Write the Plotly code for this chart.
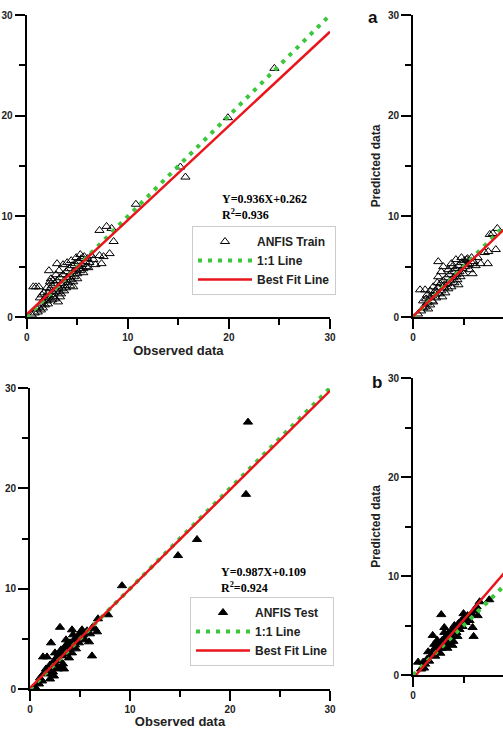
import plotly.graph_objects as go

# ---------------- data ----------------
train_obs = [24.5, 19.9, 15.2, 15.7, 10.8, 7.2, 7.9, 8.4, 8.6, 8.2, 7.4, 7.6, 7.2, 6.8, 4.6, 3.0, 0.65, 0.9, 1.2, 3.3, 3.1, 2.2, 2.4,
             0.5, 0.8, 1.0, 1.2, 1.4, 1.5, 1.6, 1.8, 1.9, 2.0, 2.1, 2.2, 2.3, 2.4, 2.5, 2.6, 2.7, 2.8, 2.9, 3.0, 3.1, 3.2, 3.3, 3.4, 3.5,
             3.6, 3.7, 3.8, 3.9, 4.0, 4.1, 4.2, 4.3, 4.4, 4.5, 4.6, 4.7, 4.8, 4.9, 5.0, 5.1, 5.2, 5.3, 5.4, 5.5, 5.6, 5.7, 5.8, 5.9,
             6.0, 6.2, 6.4, 6.6, 3.6, 4.0, 2.9, 2.6, 1.7, 1.3, 2.0, 3.4, 3.7, 4.3, 5.0, 5.6, 6.1, 2.1, 2.5, 1.1, 1.6, 4.9, 5.3, 4.4,
             3.2, 2.3, 1.5, 3.9, 4.6, 2.8]
train_pred = [24.7, 19.8, 14.9, 13.9, 11.2, 8.6, 9.0, 8.8, 7.5, 6.3, 5.3, 6.0, 6.1, 5.2, 3.0, 5.3, 3.0, 3.0, 3.0, 2.0, 1.5, 4.6, 3.8,
              0.2, 0.4, 0.8, 1.0, 0.7, 1.3, 1.6, 1.2, 2.0, 1.6, 2.4, 1.9, 2.8, 2.2, 3.1, 2.5, 2.0, 3.3, 2.7, 3.6, 3.0, 2.5, 3.9, 3.3, 2.8,
              4.2, 3.6, 3.1, 4.5, 3.9, 3.4, 4.8, 4.2, 3.7, 5.1, 4.5, 4.0, 5.3, 4.7, 4.3, 5.5, 5.0, 4.6, 5.8, 5.2, 4.8, 6.0, 5.5, 5.0,
              5.8, 5.4, 6.1, 5.7, 5.2, 5.4, 4.2, 3.6, 2.4, 1.9, 2.9, 2.3, 2.6, 3.1, 3.8, 4.4, 4.9, 1.3, 1.7, 0.5, 0.9, 5.9, 6.2, 5.6,
              4.6, 3.5, 2.2, 2.9, 3.5, 1.8]

test_obs = [21.8, 21.6, 16.7, 14.8, 9.2, 7.8, 6.8, 6.7, 6.5, 5.9, 6.2, 5.2, 4.2, 3.0, 2.1, 1.3, 1.7, 2.3, 2.4, 3.2, 0.9, 0.5,
            1.0, 1.4, 1.6, 1.8, 2.0, 2.2, 2.4, 2.6, 2.7, 2.8, 2.9, 3.0, 3.1, 3.2, 3.3, 3.4, 3.5, 3.6, 3.7, 3.8, 3.9, 4.0, 4.1, 4.2,
            4.4, 4.5, 4.6, 4.8, 4.9, 5.0, 5.1, 5.3, 5.5, 5.7, 6.0, 2.5, 3.4, 2.0, 1.2, 3.6, 4.3, 6.3]
test_pred = [26.6, 19.4, 14.9, 13.3, 10.3, 7.4, 7.0, 5.7, 6.0, 4.7, 3.3, 5.9, 5.9, 6.15, 4.6, 3.2, 3.2, 1.7, 1.3, 2.2, 0.5, 0.2,
             1.1, 1.6, 2.0, 1.5, 2.4, 2.1, 2.8, 2.4, 3.2, 2.0, 3.5, 2.8, 3.9, 3.3, 2.5, 3.8, 4.2, 3.5, 4.5, 3.9, 3.1, 4.6, 4.2, 3.6,
             4.9, 4.4, 4.0, 5.2, 4.6, 5.6, 5.0, 5.4, 4.9, 5.8, 5.5, 3.6, 2.0, 1.0, 0.8, 4.9, 5.4, 6.2]

a_obs = [8.35, 7.9, 7.6, 8.2, 7.45, 7.1, 7.4, 6.7, 5.9, 5.9, 2.5, 3.0, 2.8, 2.5, 0.7, 1.2, 1.7, 3.1, 2.2, 1.7, 1.0, 1.0, 1.9, 4.25, 3.8, 5.3,
         0.5, 0.8, 1.2, 1.4, 1.5, 1.7, 1.9, 2.0, 2.2, 2.3, 2.5, 2.6, 2.7, 2.8, 2.9, 3.0, 3.1, 3.2, 3.3, 3.4, 3.5, 3.6, 3.7, 3.8,
         3.9, 4.0, 4.1, 4.2, 4.3, 4.4, 4.5, 4.6, 4.7, 4.8, 4.9, 5.0, 5.1, 5.2, 5.4, 5.5, 5.6, 5.8, 6.0, 6.2, 6.4, 2.4, 1.4, 3.5,
         4.5, 2.0, 1.3, 3.9, 4.8]
a_pred = [8.8, 8.3, 8.2, 6.7, 6.5, 6.4, 5.3, 5.3, 5.3, 4.3, 5.5, 5.0, 4.5, 4.0, 2.7, 2.7, 2.6, 3.2, 2.3, 2.0, 1.6, 0.9, 1.6, 5.7, 5.3, 5.7,
          0.3, 0.6, 1.0, 1.4, 0.8, 1.2, 2.1, 1.5, 2.6, 1.9, 2.9, 2.3, 3.3, 2.6, 2.0, 3.6, 2.9, 2.4, 3.9, 3.3, 2.8, 4.2, 3.6, 3.0,
          4.5, 3.9, 3.4, 4.8, 4.2, 3.7, 5.1, 4.5, 4.0, 5.4, 4.8, 4.3, 5.6, 5.0, 5.8, 5.2, 4.7, 5.9, 5.5, 5.1, 5.9, 3.4, 2.2, 4.7,
          3.2, 3.0, 1.8, 5.0, 5.9]

b_obs = [7.55, 6.6, 6.3, 2.8, 5.0, 5.9, 6.0, 1.95, 3.1, 0.5, 1.0, 1.5, 2.1, 3.9,
         0.8, 1.2, 1.4, 1.6, 1.8, 2.0, 2.2, 2.3, 2.5, 2.6, 2.8, 2.9, 3.0, 3.2, 3.3, 3.4, 3.5, 3.6, 3.8, 3.9, 4.0, 4.2, 4.3, 4.5,
         4.6, 4.8, 4.9, 5.1, 5.2, 5.4, 5.6, 5.8, 6.1, 6.4, 2.4, 3.1, 4.1, 1.1, 2.7, 4.4]
b_pred = [7.6, 7.4, 6.9, 6.1, 6.2, 4.8, 3.9, 4.0, 4.8, 1.3, 1.3, 2.35, 3.1, 3.0,
          0.6, 1.1, 1.6, 1.4, 2.0, 2.5, 1.9, 2.8, 2.4, 3.2, 2.7, 3.5, 3.0, 3.8, 3.2, 2.7, 4.2, 3.6, 4.5, 3.9, 3.4, 4.8, 4.3, 5.2,
          4.6, 5.5, 4.9, 5.8, 5.3, 6.0, 5.5, 6.2, 6.5, 6.0, 3.5, 4.3, 5.0, 0.7, 2.2, 3.9]

line_x = [0, 30]                      # 1:1 line endpoints
train_fit = (0.936, 0.262)            # slope, intercept
test_fit = (0.987, 0.109)
a_fit = (0.96, 0.05)
b_fit = (1.18, -0.35)
fit_x = {"train": [0, 30], "test": [0, 30], "a": [0, 30], "b": [0.3, 30]}

train_eq = ["Y=0.936X+0.262", "R<sup>2</sup>=0.936"]
test_eq = ["Y=0.987X+0.109", "R<sup>2</sup>=0.924"]

# ---------------- styling ----------------
W, H = 503, 729
GREEN = "#3cc63c"
RED = "#e8161c"
FONT = "Arial, Liberation Sans, sans-serif"
SERIF = "Times New Roman, Liberation Serif, serif"

def px_x(p):
    return p / W

def px_y(p):
    return 1 - p / H

fig = go.Figure()

panels = [
    ("train", train_obs, train_pred, train_fit, "", "triangle-up-open", "ANFIS Train", "legend"),
    ("test", test_obs, test_pred, test_fit, "2", "triangle-up", "ANFIS Test", "legend2"),
    ("a", a_obs, a_pred, a_fit, "3", "triangle-up-open", None, None),
    ("b", b_obs, b_pred, b_fit, "4", "triangle-up", None, None),
]

for name, obs, pred, fit, sfx, sym, lname, lid in panels:
    xa, ya = "x" + sfx, "y" + sfx
    show = lname is not None
    kw = dict(legend=lid) if show else {}
    fig.add_trace(go.Scatter(
        x=obs, y=pred, mode="markers", xaxis=xa, yaxis=ya,
        marker=dict(symbol=sym, size=8, color="black", line=dict(color="black", width=1)),
        name=lname or "", showlegend=show, cliponaxis=False, **kw))
    fig.add_trace(go.Scatter(
        x=line_x, y=line_x, mode="lines", xaxis=xa, yaxis=ya,
        line=dict(color=GREEN, width=4, dash="4px,6px"),
        name="1:1 Line", showlegend=show, **kw))
    fx = fit_x[name]
    fig.add_trace(go.Scatter(
        x=fx, y=[fit[0] * v + fit[1] for v in fx], mode="lines", xaxis=xa, yaxis=ya,
        line=dict(color=RED, width=2.5),
        name="Best Fit Line", showlegend=show, **kw))

tickfont = dict(family=FONT, size=10, color="#222", weight="bold")
titlefont = dict(family=FONT, size=13, color="#222", weight="bold")

def axis(domain, rng, anchor, title=None, standoff=None, tsize=13):
    d = dict(
        domain=domain, range=rng, anchor=anchor, autorange=False,
        showgrid=False, zeroline=False, showline=True, linecolor="black", linewidth=2,
        ticks="outside", ticklen=10, tickwidth=2, tickcolor="black",
        tick0=0, dtick=10, tickfont=tickfont, automargin=False,
        minor=dict(dtick=5, tick0=0, ticks="outside", ticklen=6, tickwidth=2, tickcolor="black", showgrid=False),
    )
    if title:
        d["title"] = dict(text=title, font=dict(titlefont, size=tsize), standoff=standoff)
    return d

xr_right = (W - 413) / 10.1

legend_style = dict(xanchor="left", yanchor="top",
                    bgcolor="white", bordercolor="#cccccc", borderwidth=1,
                    font=dict(family=FONT, size=12, color="#222", weight="bold"),
                    tracegroupgap=0, itemwidth=54)

fig.update_layout(
    width=W, height=H, margin=dict(l=0, r=0, t=0, b=0),
    paper_bgcolor="white", plot_bgcolor="white",
    xaxis=axis([px_x(26.7), px_x(330)], [0, 30], "y", "Observed data", 4),
    yaxis=axis([px_y(317), px_y(15)], [0, 30], "x"),
    xaxis2=axis([px_x(30), px_x(330)], [0, 30], "y2", "Observed data", 4),
    yaxis2=axis([px_y(689), px_y(388)], [0, 30], "x2"),
    xaxis3=axis([px_x(413), 1], [0, xr_right], "y3"),
    yaxis3=axis([px_y(317), px_y(15)], [0, 30], "x3", "Predicted data", 5, 12),
    xaxis4=axis([px_x(413), 1], [0, xr_right], "y4"),
    yaxis4=axis([px_y(675), px_y(378)], [0, 30], "x4", "Predicted data", 5, 12),
    legend=dict(legend_style, x=px_x(192), y=px_y(226)),
    legend2=dict(legend_style, x=px_x(190), y=px_y(597)),
    showlegend=True,
)

ann = []
for (eq, x0, y0) in [(train_eq, 220, 199), (test_eq, 219, 572)]:
    ann.append(dict(text=eq[0], x=px_x(x0), y=px_y(y0), xref="paper", yref="paper",
                    xanchor="left", yanchor="middle", showarrow=False,
                    font=dict(family=SERIF, size=12, color="black", weight="bold")))
    ann.append(dict(text=eq[1], x=px_x(x0), y=px_y(y0 + 15), xref="paper", yref="paper",
                    xanchor="left", yanchor="middle", showarrow=False,
                    font=dict(family=SERIF, size=12, color="black", weight="bold")))
for (lab, x0, y0) in [("a", 373, 17), ("b", 377, 382)]:
    ann.append(dict(text=lab, x=px_x(x0), y=px_y(y0), xref="paper", yref="paper",
                    xanchor="center", yanchor="middle", showarrow=False,
                    font=dict(family=FONT, size=17, color="#111", weight="bold")))
fig.update_layout(annotations=ann)

fig.write_html("out.html")
